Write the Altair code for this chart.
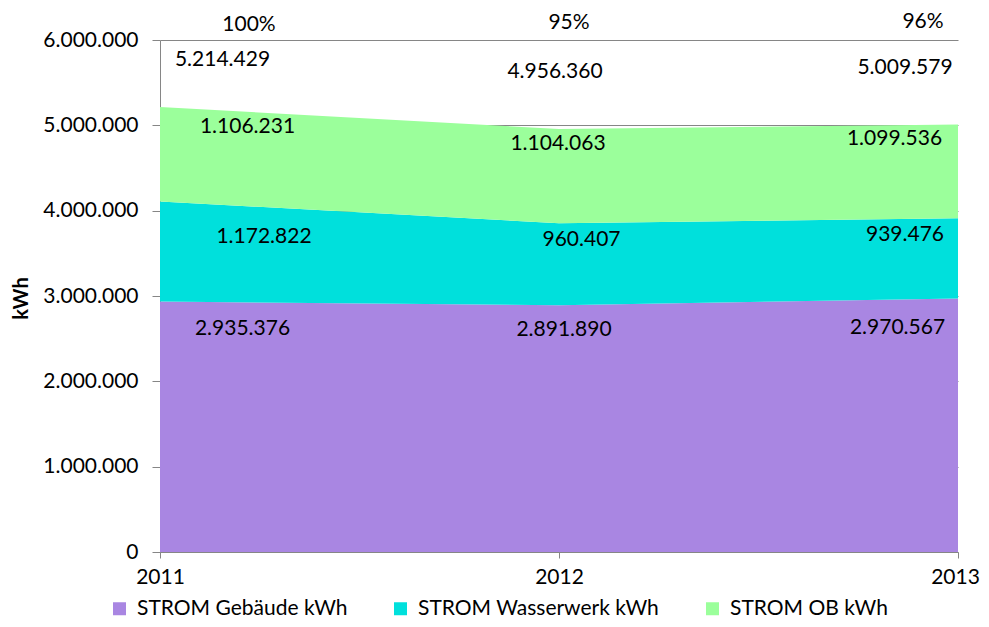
import altair as alt
import pandas as pd

years = [2011, 2012, 2013]
series = ["STROM Gebäude kWh", "STROM Wasserwerk kWh", "STROM OB kWh"]
gebaeude = [2935376, 2891890, 2970567]
wasserwerk = [1172822, 960407, 939476]
ob = [1106231, 1104063, 1099536]
totals = [5214429, 4956360, 5009579]
percent_labels = ["100%", "95%", "96%"]
y_ticks = [0, 1000000, 2000000, 3000000, 4000000, 5000000, 6000000]
colors = ["#A986E2", "#00E0DC", "#9BFF9B"]


def de(n):
    return f"{n:,}".replace(",", ".")


rows = []
for i, yr in enumerate(years):
    cum = 0
    for j, (s, vals) in enumerate(zip(series, [gebaeude, wasserwerk, ob])):
        cum += vals[i]
        rows.append(dict(year=yr, series=s, order=j, value=vals[i], top=cum, label=de(vals[i])))
df = pd.DataFrame(rows)
tot_df = pd.DataFrame(dict(year=years, total=totals,
                           label=[de(t) for t in totals], pct=percent_labels))

FONT = "Lato"
FS = 21
GRAY = "#868686"

x_scale = alt.Scale(type="point", padding=0, domain=years)
y_scale = alt.Scale(domain=[0, 6000000], nice=False)
x_axis = alt.Axis(labelAngle=0, grid=False, tickSize=6, labelPadding=8,
                  labelOverlap=False, title=None,
                  labelOffset=alt.ConditionalAxisNumber(
                      condition={"test": "datum.value == 2013", "value": -3}, value=0))
y_axis = alt.Axis(values=y_ticks, grid=True, tickSize=8, labelPadding=14,
                  labelExpr="replace(format(datum.value, ','), /,/g, '.')",
                  title="kWh", titleX=-139, titleY=258, titleAngle=270,
                  titleAlign="center", titleBaseline="middle",
                  titleFont=FONT, titleFontSize=20, titleFontWeight="bold",
                  titleColor="black")


def xe():
    return alt.X("year:O", scale=x_scale, axis=x_axis)


def ye(field, stack=None):
    return alt.Y(field, scale=y_scale, axis=y_axis, stack=stack)


area = alt.Chart(df).mark_area(interpolate="linear").encode(
    x=xe(),
    y=ye("value:Q", stack="zero"),
    color=alt.Color("series:N", scale=alt.Scale(domain=series, range=colors),
                    legend=alt.Legend(orient="none", legendX=-51, legendY=558,
                                      direction="horizontal", title=None,
                                      symbolType="square", symbolSize=169,
                                      symbolStrokeWidth=0, labelFont=FONT,
                                      labelFontSize=FS, labelColor="black",
                                      columnPadding=42, labelOffset=7,
                                      labelLimit=400)),
    order=alt.Order("order:Q"),
)

text_style = dict(font=FONT, fontSize=FS, color="black", align="center", baseline="middle")

seg_offsets = {
    2011: [(82.5, 27.5), (104, 35.6), (87.5, 20)],
    2012: [(5, 24.8), (22.5, 16.7), (-1, 15)],
    2013: [(-60.5, 29.5), (-53, 16.6), (-63.5, 14.5)],
}
total_offsets = {2011: (62.5, -47), 2012: (-4, -57), 2013: (-53, -56.5)}
pct_offsets = {2011: (89, -15), 2012: (10, -17), 2013: (-35, -18)}

layers = [area]
for yr in years:
    for j in range(len(series)):
        dx, dy = seg_offsets[yr][j]
        layers.append(
            alt.Chart(df).transform_filter(
                (alt.datum.year == yr) & (alt.datum.order == j)
            ).mark_text(dx=dx, dy=dy, **text_style).encode(
                x=xe(), y=ye("top:Q"), text="label:N",
            )
        )
    dx, dy = total_offsets[yr]
    layers.append(
        alt.Chart(tot_df).transform_filter(alt.datum.year == yr)
        .mark_text(dx=dx, dy=dy, **text_style).encode(
            x=xe(), y=ye("total:Q"), text="label:N",
        )
    )
    dx, dy = pct_offsets[yr]
    layers.append(
        alt.Chart(tot_df).transform_filter(alt.datum.year == yr)
        .mark_text(dx=dx, dy=dy, **text_style).encode(
            x=xe(), y=alt.value(0), text="pct:N",
        )
    )

chart = alt.layer(*layers).properties(
    width=798, height=512,
    autosize=alt.AutoSizeParams(type="none"),
    padding={"left": 152, "top": 32, "right": 23, "bottom": 67},
).configure_view(stroke=None).configure_axis(
    domainColor=GRAY, tickColor=GRAY, gridColor=GRAY,
    labelFont=FONT, labelFontSize=FS, labelColor="black",
)

chart.save("out.html", embed_options={"renderer": "svg", "actions": False})
